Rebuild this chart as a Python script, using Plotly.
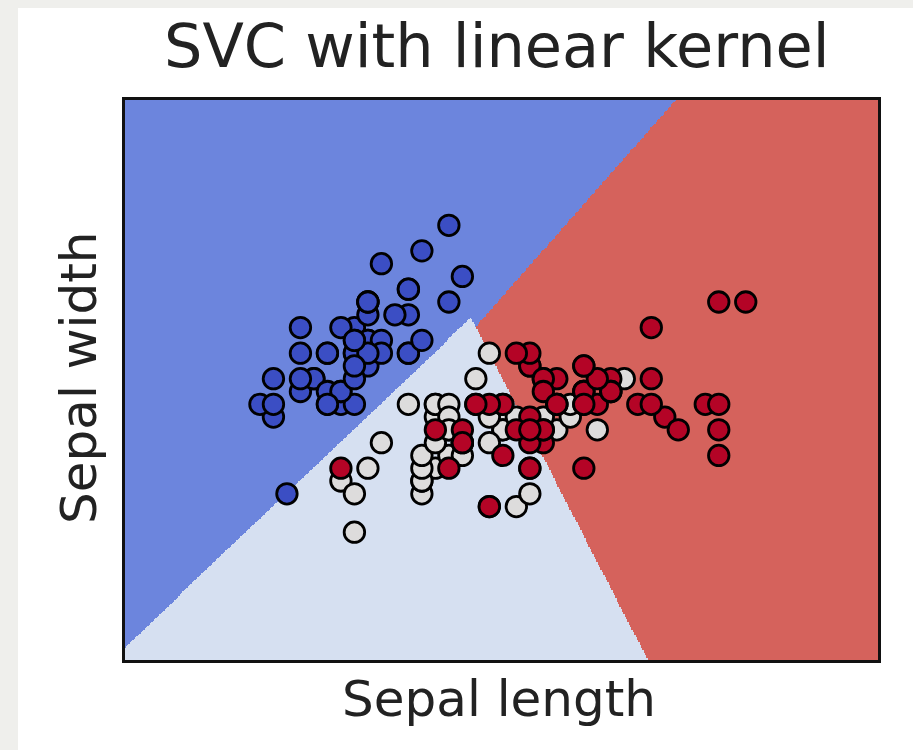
import numpy as np
import plotly.graph_objects as go

# Iris data: sepal length / sepal width, class 0 = setosa, 1 = versicolor, 2 = virginica
sepal_length = [
    5.1, 4.9, 4.7, 4.6, 5.0, 5.4, 4.6, 5.0, 4.4, 4.9, 5.4, 4.8, 4.8, 4.3, 5.8, 5.7, 5.4, 5.1, 5.7, 5.1,
    5.4, 5.1, 4.6, 5.1, 4.8, 5.0, 5.0, 5.2, 5.2, 4.7, 4.8, 5.4, 5.2, 5.5, 4.9, 5.0, 5.5, 4.9, 4.4, 5.1,
    5.0, 4.5, 4.4, 5.0, 5.1, 4.8, 5.1, 4.6, 5.3, 5.0,
    7.0, 6.4, 6.9, 5.5, 6.5, 5.7, 6.3, 4.9, 6.6, 5.2, 5.0, 5.9, 6.0, 6.1, 5.6, 6.7, 5.6, 5.8, 6.2, 5.6,
    5.9, 6.1, 6.3, 6.1, 6.4, 6.6, 6.8, 6.7, 6.0, 5.7, 5.5, 5.5, 5.8, 6.0, 5.4, 6.0, 6.7, 6.3, 5.6, 5.5,
    5.5, 6.1, 5.8, 5.0, 5.6, 5.7, 5.7, 6.2, 5.1, 5.7,
    6.3, 5.8, 7.1, 6.3, 6.5, 7.6, 4.9, 7.3, 6.7, 7.2, 6.5, 6.4, 6.8, 5.7, 5.8, 6.4, 6.5, 7.7, 7.7, 6.0,
    6.9, 5.6, 7.7, 6.3, 6.7, 7.2, 6.2, 6.1, 6.4, 7.2, 7.4, 7.9, 6.4, 6.3, 6.1, 7.7, 6.3, 6.4, 6.0, 6.9,
    6.7, 6.9, 5.8, 6.8, 6.7, 6.7, 6.3, 6.5, 6.2, 5.9,
]
sepal_width = [
    3.5, 3.0, 3.2, 3.1, 3.6, 3.9, 3.4, 3.4, 2.9, 3.1, 3.7, 3.4, 3.0, 3.0, 4.0, 4.4, 3.9, 3.5, 3.8, 3.8,
    3.4, 3.7, 3.6, 3.3, 3.4, 3.0, 3.4, 3.5, 3.4, 3.2, 3.1, 3.4, 4.1, 4.2, 3.1, 3.2, 3.5, 3.6, 3.0, 3.4,
    3.5, 2.3, 3.2, 3.5, 3.8, 3.0, 3.8, 3.2, 3.7, 3.3,
    3.2, 3.2, 3.1, 2.3, 2.8, 2.8, 3.3, 2.4, 2.9, 2.7, 2.0, 3.0, 2.2, 2.9, 2.9, 3.1, 3.0, 2.7, 2.2, 2.5,
    3.2, 2.8, 2.5, 2.8, 2.9, 3.0, 2.8, 3.0, 2.9, 2.6, 2.4, 2.4, 2.7, 2.7, 3.0, 3.4, 3.1, 2.3, 3.0, 2.5,
    2.6, 3.0, 2.6, 2.3, 2.7, 3.0, 2.9, 2.9, 2.5, 2.8,
    3.3, 2.7, 3.0, 2.9, 3.0, 3.0, 2.5, 2.9, 2.5, 3.6, 3.2, 2.7, 3.0, 2.5, 2.8, 3.2, 3.0, 3.8, 2.6, 2.2,
    3.2, 2.8, 2.8, 2.7, 3.3, 3.2, 2.8, 3.0, 2.8, 3.0, 2.8, 3.8, 2.8, 2.8, 2.6, 3.0, 3.4, 3.1, 3.0, 3.1,
    3.1, 3.1, 2.7, 3.2, 3.3, 3.0, 2.5, 3.0, 3.4, 3.0,
]
species = [0] * 50 + [1] * 50 + [2] * 50

# Pairwise decision boundaries (two points each, data units)
b01_x, b01_y = [3.708, 5.879], [1.508, 3.690]   # setosa vs versicolor
b02_x, b02_y = [5.931, 7.383], [3.643, 5.380]   # setosa vs virginica
b12_x, b12_y = [6.486, 7.175], [2.408, 1.000]   # versicolor vs virginica

x_range = [3.3, 8.88]
y_range = [1.0, 5.38]

region_colors = ["#6c85dd", "#d6e0f1", "#d5625c"]
point_colors = ["#3b4ec4", "#dddcdc", "#b40426"]

# mesh grid and one-vs-one voting
xs = np.arange(x_range[0], x_range[1] + 1e-9, 0.01)
ys = np.arange(y_range[0], y_range[1] + 1e-9, 0.01)
XX, YY = np.meshgrid(xs, ys)


def side(bx, by, px, py):
    return (bx[1] - bx[0]) * (py - by[0]) - (by[1] - by[0]) * (px - bx[0])


ref_blue = (4.0, 4.5)
ref_white = (5.0, 2.0)
s01 = side(b01_x, b01_y, XX, YY) * side(b01_x, b01_y, *ref_blue) > 0   # True -> class 0 wins
s02 = side(b02_x, b02_y, XX, YY) * side(b02_x, b02_y, *ref_blue) > 0   # True -> class 0 wins
s12 = side(b12_x, b12_y, XX, YY) * side(b12_x, b12_y, *ref_white) > 0  # True -> class 1 wins
votes = np.stack([
    s01.astype(int) + s02.astype(int),
    (~s01).astype(int) + s12.astype(int),
    (~s02).astype(int) + (~s12).astype(int),
])
Z = np.argmax(votes, axis=0)

fig = go.Figure()
fig.add_trace(go.Heatmap(
    x=xs, y=ys, z=Z, zmin=0, zmax=2, zsmooth=False,
    colorscale=[[0, region_colors[0]], [0.5, region_colors[1]], [1, region_colors[2]]],
    showscale=False, hoverinfo="skip",
))
fig.add_trace(go.Scatter(
    x=sepal_length, y=sepal_width, mode="markers",
    marker=dict(size=20.5, color=[point_colors[c] for c in species],
                line=dict(color="#000000", width=2.8)),
    showlegend=False,
))

W, H = 913, 750
L, R, T, B = 125, 35, 100, 90
pw, ph = W - L - R, H - T - B


def px_x(p):
    return (p - L) / pw


def px_y(p):
    return (H - B - p) / ph


fig.update_layout(
    width=W, height=H,
    margin=dict(l=L, r=R, t=T, b=B),
    paper_bgcolor="white", plot_bgcolor="white",
    font=dict(family="DejaVu Sans", color="#222222"),
    xaxis=dict(range=x_range, showticklabels=False, ticks="", showgrid=False, zeroline=False,
               showline=True, mirror=True, linecolor="#111111", linewidth=2.5),
    yaxis=dict(range=y_range, showticklabels=False, ticks="", showgrid=False, zeroline=False,
               showline=True, mirror=True, linecolor="#111111", linewidth=2.5),
    shapes=[
        dict(type="rect", xref="paper", yref="paper", layer="below",
             x0=px_x(0), x1=px_x(18), y0=px_y(H), y1=px_y(0),
             fillcolor="#efefec", line=dict(width=0)),
        dict(type="rect", xref="paper", yref="paper", layer="below",
             x0=px_x(0), x1=px_x(W), y0=px_y(8), y1=px_y(0),
             fillcolor="#efefec", line=dict(width=0)),
    ],
    annotations=[
        dict(text="SVC with linear kernel", xref="paper", yref="paper",
             x=px_x(497), y=px_y(46), xanchor="center", yanchor="middle",
             showarrow=False, font=dict(size=60.5)),
        dict(text="Sepal length", xref="paper", yref="paper",
             x=px_x(499), y=px_y(699), xanchor="center", yanchor="middle",
             showarrow=False, font=dict(size=50)),
        dict(text="Sepal width", xref="paper", yref="paper", textangle=-90,
             x=px_x(79), y=px_y(378), xanchor="center", yanchor="middle",
             showarrow=False, font=dict(size=50)),
    ],
)

fig.write_html("out.html")
